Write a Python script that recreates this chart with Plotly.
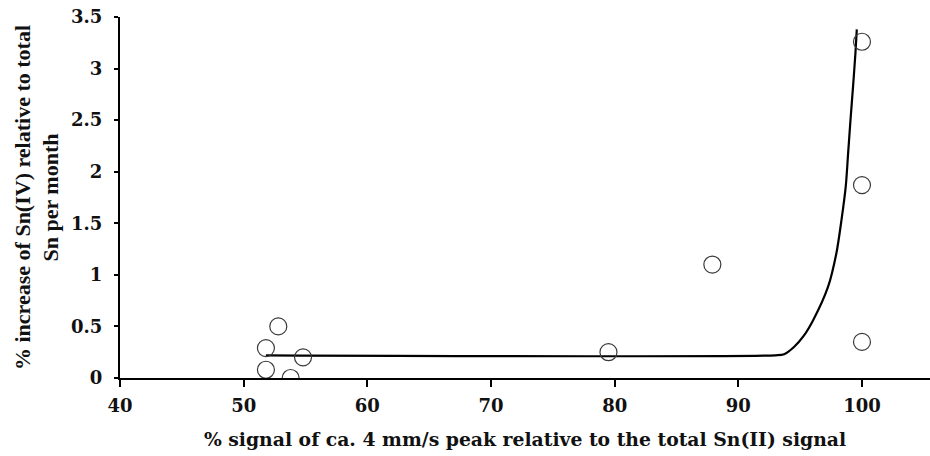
import plotly.graph_objects as go

# Measured points
signal_pct = [51.8, 51.8, 52.8, 53.8, 54.8, 79.5, 87.9, 100, 100, 100]
increase_pct = [0.29, 0.08, 0.50, 0.00, 0.20, 0.25, 1.10, 3.26, 1.87, 0.35]

# Trend curve (flat baseline, then steep rise)
fit_x = [51.8, 93.0, 93.7, 94.5, 95.3, 96.05, 97.26, 97.93, 98.34, 98.69, 98.88, 99.07, 99.28, 99.47, 99.58]
fit_y = [0.22, 0.22, 0.23, 0.30, 0.41, 0.56, 0.885, 1.21, 1.53, 1.86, 2.18, 2.50, 2.83, 3.15, 3.38]

x_ticks = [40, 50, 60, 70, 80, 90, 100]
y_ticks = [0, 0.5, 1, 1.5, 2, 2.5, 3, 3.5]
y_tick_text = ["0", "0.5", "1", "1.5", "2", "2.5", "3", "3.5"]

tick_font = dict(family="DejaVu Serif", size=18, color="#111", weight="bold")
x_title_font = dict(family="DejaVu Serif", size=18.8, color="#111", weight="bold")
y_title_font = dict(family="Liberation Serif", size=22, color="#111", weight="bold")

fig = go.Figure()
fig.add_trace(go.Scatter(
    x=fit_x, y=fit_y, mode="lines",
    line=dict(color="black", width=2.2, shape="spline", smoothing=0.8),
    hoverinfo="skip", showlegend=False,
))
fig.add_trace(go.Scatter(
    x=signal_pct, y=increase_pct, mode="markers",
    marker=dict(symbol="circle-open", size=17, color="#3a3a3a", line=dict(width=1.2)),
    showlegend=False,
))

fig.update_layout(
    width=930, height=456,
    margin=dict(l=120, r=0, t=17, b=78),
    paper_bgcolor="white", plot_bgcolor="white",
)
fig.update_xaxes(
    range=[40, 105.5], tickvals=x_ticks,
    showgrid=False, zeroline=False,
    showline=True, linecolor="black", linewidth=2,
    ticks="outside", ticklen=7, tickwidth=2, tickcolor="black",
    tickfont=tick_font, ticklabelstandoff=3,
    title=dict(text="% signal of ca. 4 mm/s peak relative to the total Sn(II) signal",
               font=x_title_font, standoff=18),
)
fig.update_yaxes(
    range=[0, 3.5], tickvals=y_ticks, ticktext=y_tick_text,
    showgrid=False, zeroline=False,
    showline=True, linecolor="black", linewidth=2,
    ticks="outside", ticklen=4, tickwidth=1.5, tickcolor="black",
    tickfont=tick_font, ticklabelstandoff=8,
    title=dict(text="% increase of Sn(IV) relative to total<br>Sn per month",
               font=y_title_font, standoff=6),
)

fig.write_html("out.html")
